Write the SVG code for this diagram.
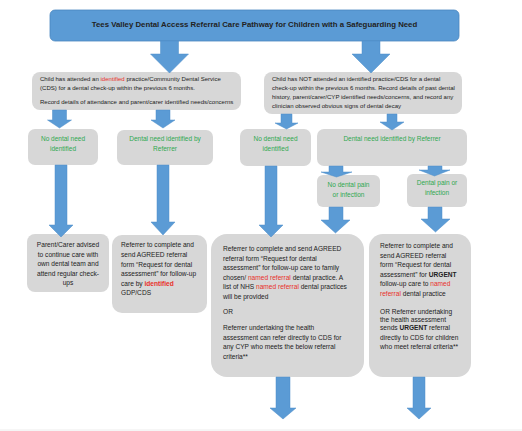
<svg xmlns="http://www.w3.org/2000/svg" width="522" height="431" viewBox="0 0 522 431">
<style>
.bx{fill:#d7d7d7;}
.tb{fill:#5b9bd5;stroke:#4a86bf;stroke-width:0.8;}
.ar{fill:#5b9bd5;stroke:#4d8cc8;stroke-width:0.5;}
text{font-family:"Liberation Sans",Arial,sans-serif;fill:#222;}
.t{font-size:6.05px;}
.b{font-size:6.6px;}
.g{font-size:6.5px;fill:#2ea84f;}
.c{text-anchor:middle;}
.r{fill:#e8302a;}
.k{font-weight:bold;}
</style>
<rect width="522" height="431" fill="#fff"/>
<line x1="0" y1="430" x2="522" y2="430" stroke="#ececec" stroke-width="1"/>

<g id="title">
<rect class="tb" x="50" y="10" width="409" height="31" rx="5"/>
<text x="254.5" y="27" class="c k" style="font-size:7.8px">Tees Valley Dental Access Referral Care Pathway for Children with a Safeguarding Need</text>
</g>

<g id="attended">
<rect class="bx" x="32" y="72" width="209" height="38" rx="8"/>
<text class="t" x="40" y="81">Child has attended an <tspan class="r">identified</tspan> practice/Community Dental Service</text>
<text class="t" x="40" y="90">(CDS) for a dental check-up within the previous 6 months.</text>
<text class="t" x="40" y="104">Record details of attendance and parent/carer identified needs/concerns</text>
</g>

<g id="not-attended">
<rect class="bx" x="264" y="72" width="198" height="42" rx="8"/>
<text class="t" x="272" y="81">Child has NOT attended an identified practice/CDS for a dental</text>
<text class="t" x="272" y="90">check-up within the previous 6 months. Record details of past dental</text>
<text class="t" x="272" y="99">history, parent/carer/CYP identified needs/concerns, and record any</text>
<text class="t" x="272" y="108">clinician observed obvious signs of dental decay</text>
</g>

<g id="no-need-left">
<rect class="bx" x="28" y="129" width="70" height="36" rx="7"/>
<text class="g c" x="63" y="141">No dental need</text>
<text class="g c" x="63" y="151">identified</text>
</g>

<g id="need-left">
<rect class="bx" x="117" y="130" width="96" height="35" rx="7"/>
<text class="g c" x="165" y="141">Dental need identified by</text>
<text class="g c" x="165" y="151">Referrer</text>
</g>

<g id="no-need-right">
<rect class="bx" x="240" y="129" width="71" height="37" rx="7"/>
<text class="g c" x="275.5" y="141">No dental need</text>
<text class="g c" x="275.5" y="151">identified</text>
</g>

<g id="need-right">
<rect class="bx" x="317" y="129" width="150" height="37" rx="7"/>
<text class="g c" x="392" y="141">Dental need identified by Referrer</text>
</g>

<g id="no-pain">
<rect class="bx" x="317" y="175" width="63" height="32" rx="6"/>
<text class="g c" x="348.5" y="187">No dental pain</text>
<text class="g c" x="348.5" y="197">or infection</text>
</g>

<g id="pain">
<rect class="bx" x="407" y="174" width="60" height="33" rx="6"/>
<text class="g c" x="437" y="185">Dental pain or</text>
<text class="g c" x="437" y="195">infection</text>
</g>

<g id="advise">
<rect class="bx" x="27" y="234" width="82" height="58" rx="8"/>
<text class="b c" x="68" y="247">Parent/Carer advised</text>
<text class="b c" x="68" y="256.5">to continue care with</text>
<text class="b c" x="68" y="266">own dental team and</text>
<text class="b c" x="68" y="275.5">attend regular check-</text>
<text class="b c" x="68" y="285">ups</text>
</g>

<g id="refer-identified">
<rect class="bx" x="112" y="235" width="95" height="78" rx="10"/>
<text class="b" x="121" y="247">Referrer to complete and</text>
<text class="b" x="121" y="257">send AGREED referral</text>
<text class="b" x="121" y="266.5">form “Request for dental</text>
<text class="b" x="121" y="276">assessment” for follow-up</text>
<text class="b" x="121" y="285.5">care by <tspan class="r k">identified</tspan></text>
<text class="b" x="121" y="295">GDP/CDS</text>
</g>

<g id="refer-named">
<rect class="bx" x="211" y="234" width="153" height="143" rx="16"/>
<text class="b" x="223" y="251">Referrer to complete and send AGREED</text>
<text class="b" x="223" y="260.5">referral form “Request for dental</text>
<text class="b" x="223" y="270">assessment”  for follow-up care to family</text>
<text class="b" x="223" y="279.5">chosen/ <tspan class="r">named referral</tspan> dental practice.  A</text>
<text class="b" x="223" y="289">list of NHS <tspan class="r">named referral</tspan> dental practices</text>
<text class="b" x="223" y="298.5">will be provided</text>
<text class="b" x="223" y="314">OR</text>
<text class="b" x="223" y="330">Referrer undertaking the health</text>
<text class="b" x="223" y="339.5">assessment can refer directly to CDS for</text>
<text class="b" x="223" y="349">any CYP who meets the below referral</text>
<text class="b" x="223" y="358.5">criteria**</text>
</g>

<g id="refer-urgent">
<rect class="bx" x="369" y="234" width="102" height="143" rx="14"/>
<text class="b" x="380" y="248">Referrer to complete and</text>
<text class="b" x="380" y="257.5">send AGREED referral</text>
<text class="b" x="380" y="267">form “Request for dental</text>
<text class="b" x="380" y="276.5">assessment” for <tspan class="k">URGENT</tspan></text>
<text class="b" x="380" y="286">follow-up care to <tspan class="r">named</tspan></text>
<text class="b" x="380" y="295.5"><tspan class="r">referral</tspan> dental practice</text>
<text class="b" x="380" y="314">OR Referrer undertaking</text>
<text class="b" x="380" y="322">the health assessment</text>
<text class="b" x="380" y="330">sends <tspan class="k">URGENT</tspan> referral</text>
<text class="b" x="380" y="339.5">directly to CDS for children</text>
<text class="b" x="380" y="349">who meet referral criteria**</text>
</g>

<g id="connectors">
<polygon class="ar" points="160.5,41 178.5,41 178.5,54 188.5,54 169.5,73 150.5,54 160.5,54"/>
<polygon class="ar" points="362,41 380,41 380,54 390,54 371,73 352,54 362,54"/>
<polygon class="ar" points="52.5,110 66.5,110 66.5,120 71.5,120 59.5,128 47.5,120 52.5,120"/>
<polygon class="ar" points="156,110 170,110 170,120 175,120 163,128 151,120 156,120"/>
<polygon class="ar" points="281,114 292,114 292,123 298,123 286.5,129 275,123 281,123"/>
<polygon class="ar" points="387,114 397,114 397,122 404,122 392,130 380,122 387,122"/>
<polygon class="ar" points="329,166 343,166 343,172 352,172 336.5,177 321,172 329,172"/>
<polygon class="ar" points="428,166 442,166 442,170 450,170 434.5,176 419,170 428,170"/>
<polygon class="ar" points="265,166 277,166 277,225 283,225 271,237 259,225 265,225"/>
<polygon class="ar" points="329,207 343,207 343,220 350,220 335.5,233 321,220 329,220"/>
<polygon class="ar" points="428,207 442,207 442,219 450,219 435.5,232 421,219 428,219"/>
<polygon class="ar" points="55,165 67,165 67,225 73,225 61,237 49,225 55,225"/>
<polygon class="ar" points="157,165 169,165 169,222 175,222 163,235 151,222 157,222"/>
<polygon class="ar" points="276,377 290,377 290,408 296,408 283,419 270,408 276,408"/>
<polygon class="ar" points="413,377 425,377 425,408 431,408 419,419 407,408 413,408"/>
</g>
</svg>
